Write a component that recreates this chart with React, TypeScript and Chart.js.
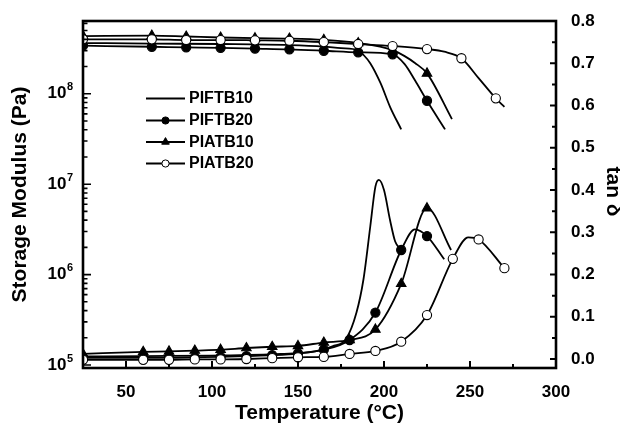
import { useEffect, useRef } from 'react';
import { Chart, registerables } from 'chart.js';

Chart.register(...registerables);

// ---------- data ----------
const sampleNames = ['PIFTB10', 'PIFTB20', 'PIATB10', 'PIATB20'];
const markerStyles = ['none', 'circle', 'triangle', 'circle'];
const markerFills = ['#000000', '#000000', '#000000', '#ffffff'];
const drawOrder = [3, 2, 1, 0];

// storage modulus (Pa) vs temperature (°C)
const tempE_PIFTB10 = [25, 65, 105, 145, 165, 175, 185, 188, 192, 198, 203.5, 210];
const modulus_PIFTB10 = [3.64e8, 3.59e8, 3.55e8, 3.46e8, 3.33e8, 3.2e8, 3.04e8, 2.7e8, 2.18e8, 1.31e8, 7.18e7, 4.04e7];
const tempE_PIFTB20 = [25, 65, 85, 105, 125, 145, 165, 185, 205, 212, 218, 225, 235.5];
const modulus_PIFTB20 = [3.4e8, 3.31e8, 3.26e8, 3.22e8, 3.16e8, 3.1e8, 2.99e8, 2.87e8, 2.73e8, 2.13e8, 1.41e8, 8.37e7, 4.04e7];
const tempE_PIATB10 = [25, 65, 85, 105, 125, 145, 165, 185, 205, 212, 218, 225, 239.5];
const modulus_PIATB10 = [4.35e8, 4.4e8, 4.3e8, 4.19e8, 4.12e8, 4.08e8, 3.95e8, 3.64e8, 3.04e8, 2.61e8, 2.19e8, 1.68e8, 5.25e7];
const tempE_PIATB20 = [25, 65, 85, 105, 125, 145, 165, 185, 205, 225, 235, 245, 255, 265, 270];
const modulus_PIATB20 = [4.0e8, 4.0e8, 3.93e8, 3.93e8, 3.9e8, 3.86e8, 3.73e8, 3.55e8, 3.37e8, 3.12e8, 2.92e8, 2.47e8, 1.49e8, 8.9e7, 7.18e7];

// tan delta vs temperature (°C)
const tempT_PIFTB10 = [25, 60, 100, 140, 160, 170, 178, 184, 188, 192, 195, 197, 200, 203.5, 206.5, 210];
const tanD_PIFTB10 = [0.006, 0.007, 0.008, 0.012, 0.018, 0.03, 0.048, 0.11, 0.187, 0.313, 0.408, 0.424, 0.4, 0.329, 0.278, 0.258];
const tempT_PIFTB20 = [25, 60, 75, 90, 105, 120, 135, 150, 165, 180, 195, 210, 218, 225, 235];
const tanD_PIFTB20 = [0.003, 0.003, 0.003, 0.004, 0.005, 0.007, 0.009, 0.013, 0.022, 0.045, 0.11, 0.258, 0.307, 0.291, 0.236];
const tempT_PIATB10 = [25, 60, 75, 90, 105, 120, 135, 150, 165, 180, 195, 210, 225, 239];
const tanD_PIATB10 = [0.012, 0.017, 0.018, 0.02, 0.022, 0.026, 0.029, 0.031, 0.039, 0.045, 0.07, 0.178, 0.357, 0.258];
const tempT_PIATB20 = [25, 60, 75, 90, 105, 120, 135, 150, 165, 180, 195, 210, 225, 240, 249, 255, 270];
const tanD_PIATB20 = [-0.002, -0.002, -0.002, -0.001, -0.001, 0.0, 0.002, 0.004, 0.005, 0.012, 0.019, 0.041, 0.104, 0.237, 0.288, 0.283, 0.215];

// axes
const tempRange = [25, 300];
const modulusRange = [9.27e4, 6.38e8];
const tanRange = [-0.0213, 0.8];
const tempTicks = [50, 100, 150, 200, 250, 300];
const tempMinorTicks = [75, 125, 175, 225, 275];
const modulusDecades = [5, 6, 7, 8];
const tanTicks = [0, 0.1, 0.2, 0.3, 0.4, 0.5, 0.6, 0.7, 0.8];

const FONT = '"Liberation Sans", Arial, Helvetica, sans-serif';

const zip = (xs: number[], ys: number[]) => xs.map((x, i) => ({ x, y: ys[i] }));

const eData = [
  zip(tempE_PIFTB10, modulus_PIFTB10),
  zip(tempE_PIFTB20, modulus_PIFTB20),
  zip(tempE_PIATB10, modulus_PIATB10),
  zip(tempE_PIATB20, modulus_PIATB20),
];
const tData = [
  zip(tempT_PIFTB10, tanD_PIFTB10),
  zip(tempT_PIFTB20, tanD_PIFTB20),
  zip(tempT_PIATB10, tanD_PIATB10),
  zip(tempT_PIATB20, tanD_PIATB20),
];

function markerSize(style: string) {
  if (style === 'triangle') return 5.5;
  if (style === 'circle') return 4.6;
  return 0;
}

const framePlugin = {
  id: 'frame',
  afterDraw(chart: any) {
    const { ctx, chartArea } = chart;
    const { left, right, top, bottom } = chartArea;
    const xs = chart.scales.x;
    const yl = chart.scales.yE;
    const yr = chart.scales.yTan;
    ctx.save();
    ctx.strokeStyle = '#000';
    ctx.fillStyle = '#000';
    // ticks
    ctx.lineWidth = 2;
    ctx.beginPath();
    tempTicks.forEach((v) => {
      const x = xs.getPixelForValue(v);
      ctx.moveTo(x, bottom);
      ctx.lineTo(x, bottom - 7);
    });
    tempMinorTicks.forEach((v) => {
      const x = xs.getPixelForValue(v);
      ctx.moveTo(x, bottom);
      ctx.lineTo(x, bottom - 4);
    });
    tanTicks.forEach((v) => {
      const y = yr.getPixelForValue(v);
      ctx.moveTo(right, y);
      ctx.lineTo(right - 6, y);
    });
    tanTicks.slice(0, -1).forEach((v) => {
      const y = yr.getPixelForValue(v + 0.05);
      ctx.moveTo(right, y);
      ctx.lineTo(right - 4, y);
    });
    ctx.stroke();
    ctx.lineWidth = 1.6;
    ctx.beginPath();
    for (let d = 4; d <= 8; d++) {
      for (let m = 1; m <= 9; m++) {
        const v = m * Math.pow(10, d);
        if (v < modulusRange[0] || v > modulusRange[1]) continue;
        const y = yl.getPixelForValue(v);
        ctx.moveTo(left, y);
        ctx.lineTo(left + (m === 1 ? 8 : 4.5), y);
      }
    }
    ctx.stroke();
    // frame
    ctx.lineWidth = 2.6;
    ctx.strokeRect(left, top, right - left, bottom - top);

    // left tick labels with superscripts
    ctx.textBaseline = 'middle';
    modulusDecades.forEach((d) => {
      const y = yl.getPixelForValue(Math.pow(10, d));
      ctx.font = `bold 17px ${FONT}`;
      ctx.textAlign = 'right';
      ctx.fillText('10', left - 16.5, y);
      ctx.font = `bold 11px ${FONT}`;
      ctx.textAlign = 'left';
      ctx.fillText(String(d), left - 16, y - 6.5);
    });

    // axis titles
    ctx.font = `bold 21px ${FONT}`;
    ctx.textAlign = 'center';
    ctx.fillText('Temperature (°C)', (left + right) / 2, 413);
    ctx.save();
    ctx.translate(20, (top + bottom) / 2);
    ctx.rotate(-Math.PI / 2);
    ctx.fillText('Storage Modulus (Pa)', 0, 0);
    ctx.restore();
    ctx.save();
    ctx.translate(613, (top + bottom) / 2 - 3);
    ctx.rotate(Math.PI / 2);
    ctx.fillText('tan δ', 0, 0);
    ctx.restore();

    // legend
    const rowY = [98.5, 120.5, 142, 163.5];
    chart.data.datasets.slice(0, 4).forEach((ds: any, i: number) => {
      const y = rowY[i];
      const x0 = left + 63;
      const x1 = left + 102;
      const xm = (x0 + x1) / 2;
      ctx.lineWidth = 1.8;
      ctx.strokeStyle = '#000';
      ctx.beginPath();
      ctx.moveTo(x0, y);
      ctx.lineTo(x1, y);
      ctx.stroke();
      const st = markerStyles[i];
      if (st !== 'none') {
        ctx.lineWidth = 1;
        ctx.fillStyle = markerFills[i];
        ctx.beginPath();
        if (st === 'circle') {
          ctx.arc(xm, y, 3.6, 0, Math.PI * 2);
        } else {
          const r = 4.4;
          ctx.moveTo(xm, y - r);
          ctx.lineTo(xm + r * 0.866, y + r * 0.5);
          ctx.lineTo(xm - r * 0.866, y + r * 0.5);
          ctx.closePath();
        }
        ctx.fill();
        ctx.stroke();
      }
      ctx.fillStyle = '#000';
      ctx.font = `bold 16px ${FONT}`;
      ctx.textAlign = 'left';
      ctx.textBaseline = 'middle';
      ctx.fillText(ds.label, x1 + 4, y + 0.5);
    });
    ctx.restore();
  },
};

export default function App() {
  const canvasRef = useRef<HTMLCanvasElement | null>(null);

  useEffect(() => {
    if (!canvasRef.current) return;
    const mkDataset = (i: number, data: any[], axis: string, isE: boolean) => {
      const st = markerStyles[i];
      return {
        label: sampleNames[i],
        data,
        yAxisID: axis,
        order: drawOrder[i] + (isE ? 0 : 4),
        borderColor: '#000',
        borderWidth: 1.8,
        backgroundColor: markerFills[i],
        pointBackgroundColor: markerFills[i],
        pointBorderColor: '#000',
        pointBorderWidth: 1.1,
        pointStyle: st === 'none' ? 'circle' : st,
        pointRadius: (c: any) => {
          if (st === 'none') return 0;
          const t = c.raw ? c.raw.x : 0;
          const isMarker = isE ? t % 20 === 5 : t === 25 || t % 15 === 0;
          return isMarker ? markerSize(st) : 0;
        },
        pointHoverRadius: 0,
        cubicInterpolationMode: 'monotone' as const,
        fill: false,
      };
    };
    const datasets = [
      ...eData.map((d, i) => mkDataset(i, d, 'yE', true)),
      ...tData.map((d, i) => mkDataset(i, d, 'yTan', false)),
    ];
    const tickFont = { family: FONT, size: 17, weight: 'bold' as const };
    const chart = new Chart(canvasRef.current, {
      type: 'line',
      data: { datasets },
      options: {
        animation: false,
        responsive: true,
        maintainAspectRatio: false,
        layout: { padding: { top: 21, left: 0, right: 0, bottom: 0 } },
        plugins: { legend: { display: false }, tooltip: { enabled: false } },
        scales: {
          x: {
            type: 'linear',
            position: 'bottom',
            min: tempRange[0],
            max: tempRange[1],
            grid: { display: false },
            border: { display: false },
            afterBuildTicks: (s: any) => {
              s.ticks = tempTicks.map((v) => ({ value: v }));
            },
            afterFit: (s: any) => {
              s.height = 58;
            },
            ticks: { font: tickFont, color: '#000', padding: 6, maxRotation: 0, autoSkip: false },
          },
          yE: {
            type: 'logarithmic',
            position: 'left',
            min: modulusRange[0],
            max: modulusRange[1],
            grid: { display: false },
            border: { display: false },
            ticks: { display: false },
            afterFit: (s: any) => {
              s.width = 83;
            },
          },
          yTan: {
            type: 'linear',
            position: 'right',
            min: tanRange[0],
            max: tanRange[1],
            grid: { display: false },
            border: { display: false },
            afterBuildTicks: (s: any) => {
              s.ticks = tanTicks.map((v) => ({ value: v }));
            },
            afterFit: (s: any) => {
              s.width = 64;
            },
            ticks: {
              font: tickFont,
              color: '#000',
              padding: 7,
              autoSkip: false,
              callback: (v: any) => Number(v).toFixed(1),
            },
          },
        },
      } as any,
      plugins: [framePlugin],
    });
    return () => chart.destroy();
  }, []);

  return (
    <div style={{ position: 'absolute', left: 0, top: 0, width: 620, height: 426, background: '#fff' }}>
      <canvas ref={canvasRef} />
    </div>
  );
}
